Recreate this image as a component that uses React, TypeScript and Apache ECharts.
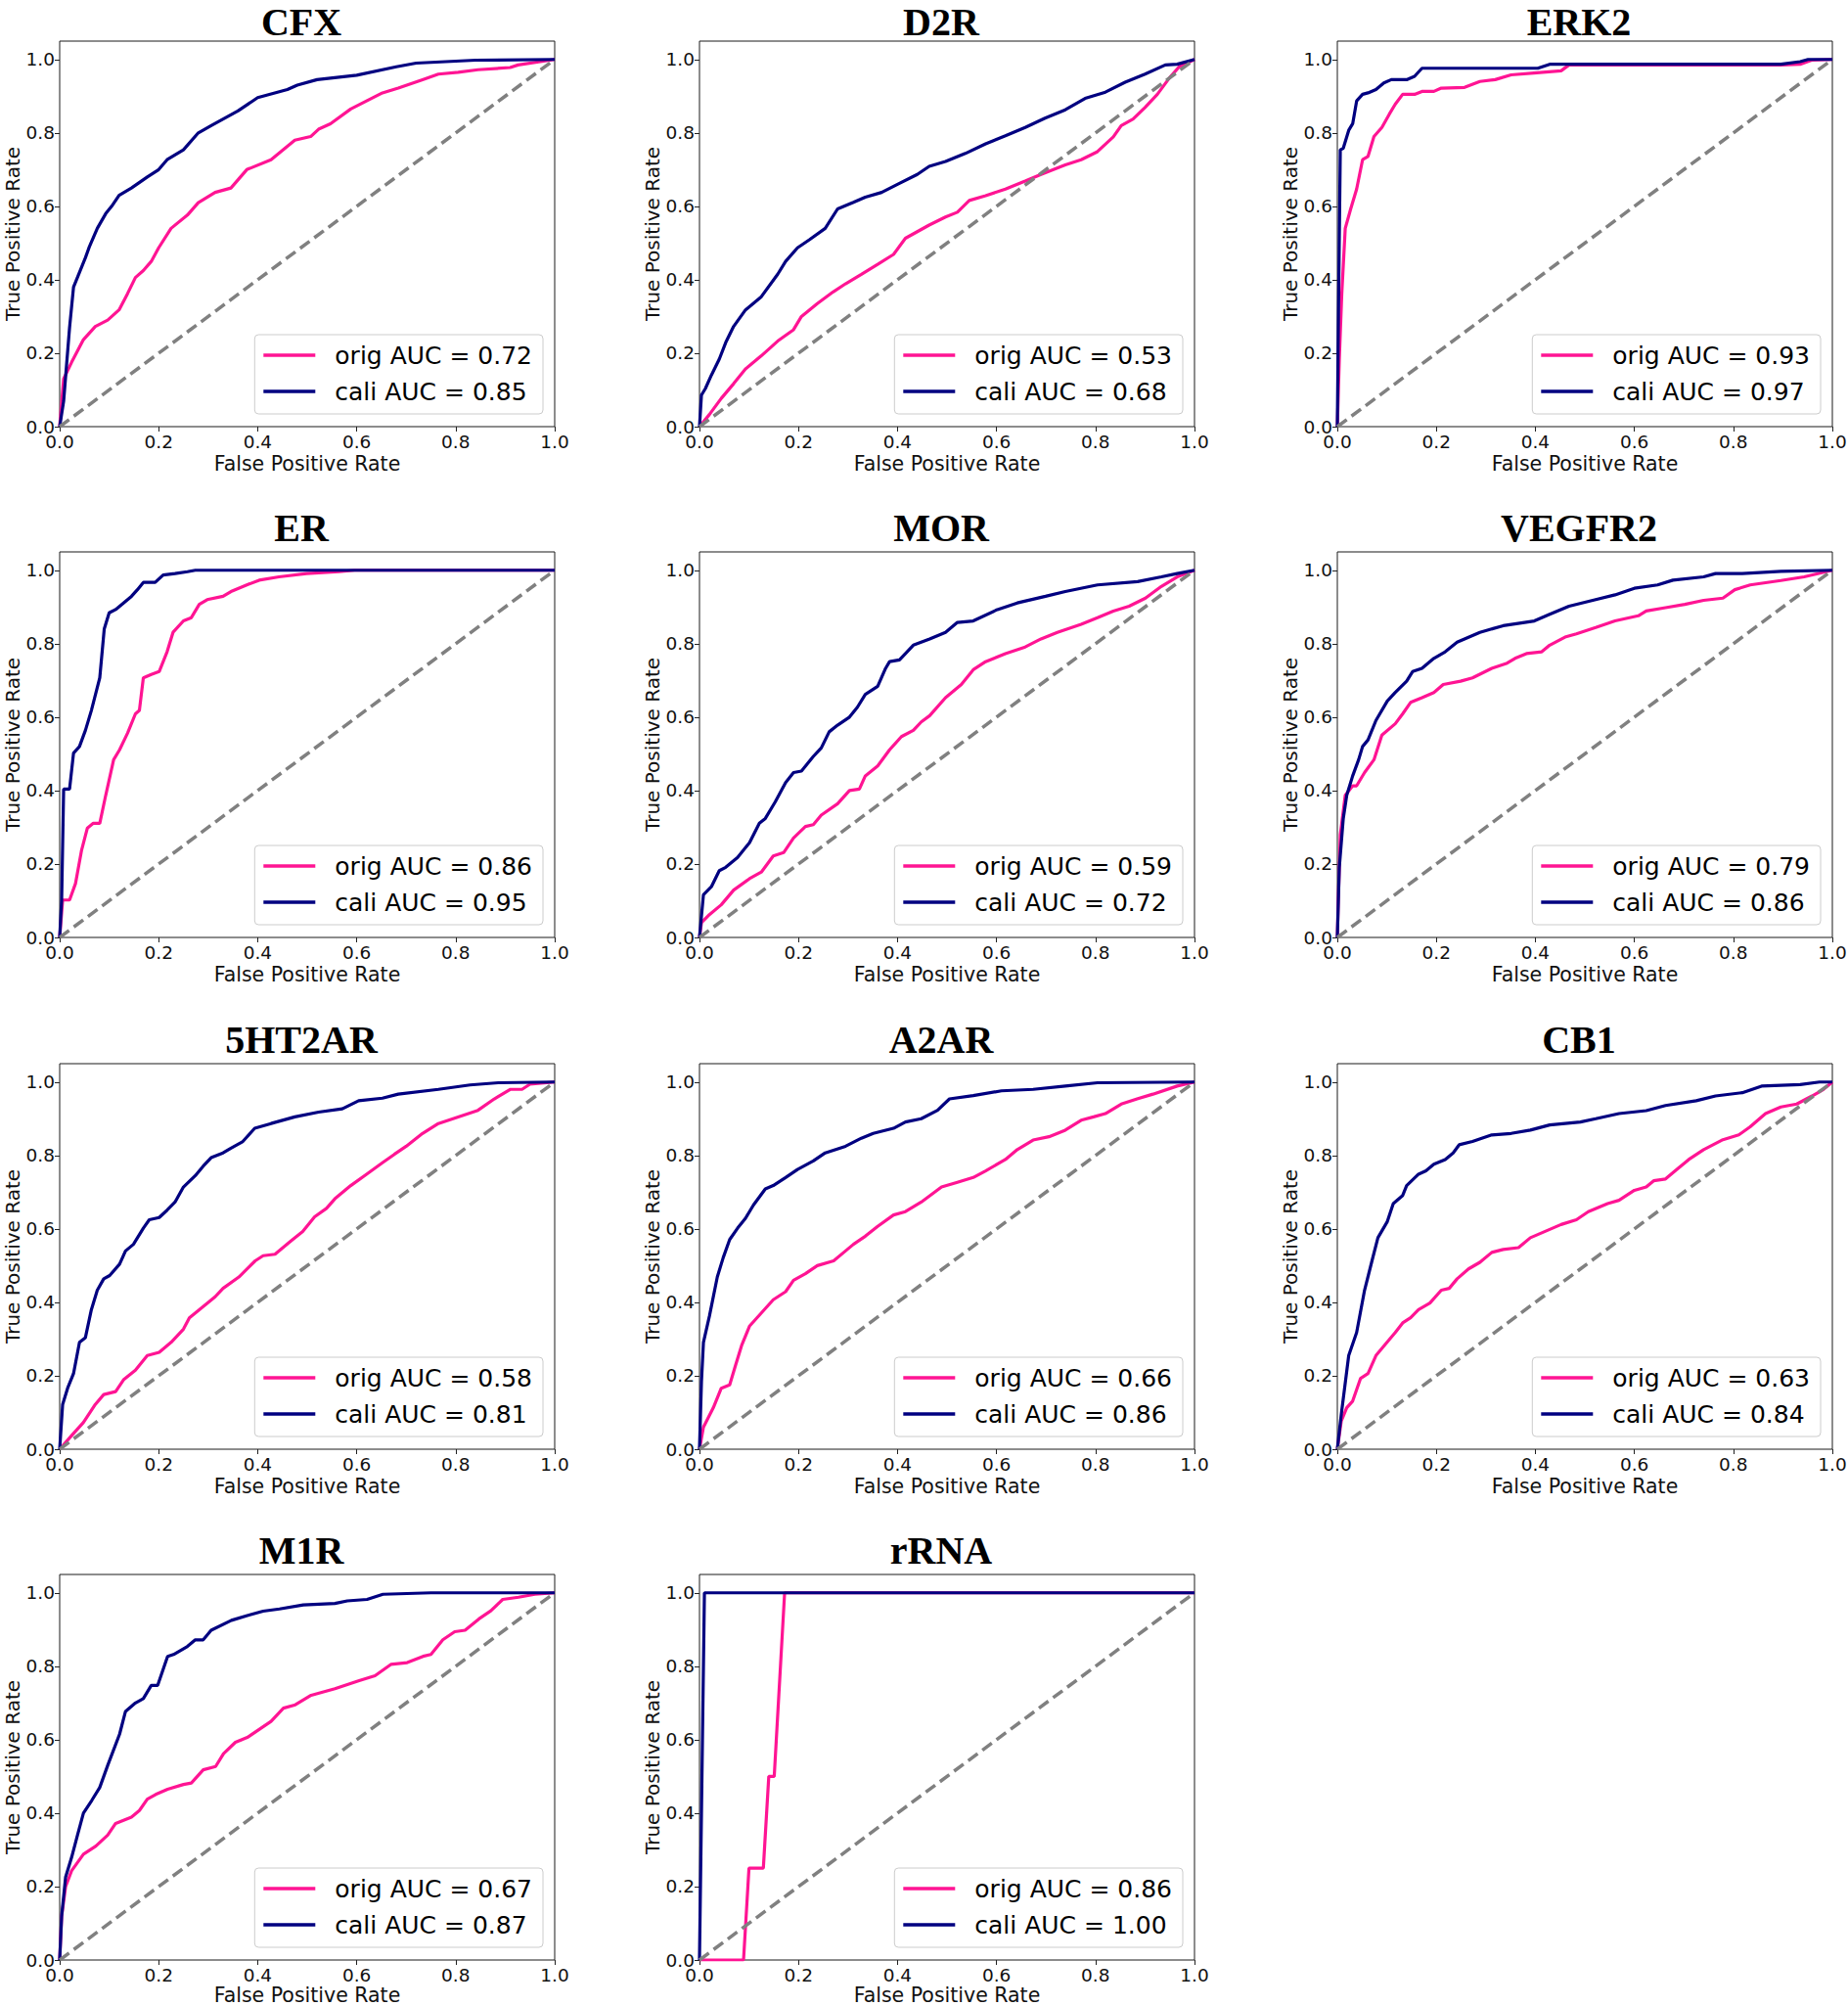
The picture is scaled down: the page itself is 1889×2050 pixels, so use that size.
import React, { useEffect, useRef } from "react";
import * as echarts from "echarts";

type Pt = [number, number];

// ---------- data ----------
const TITLES = ["CFX", "D2R", "ERK2", "ER", "MOR", "VEGFR2", "5HT2AR", "A2AR", "CB1", "M1R", "rRNA"];
const ORIG_AUC = ["0.72", "0.53", "0.93", "0.86", "0.59", "0.79", "0.58", "0.66", "0.63", "0.67", "0.86"];
const CALI_AUC = ["0.85", "0.68", "0.97", "0.95", "0.72", "0.86", "0.81", "0.86", "0.84", "0.87", "1.00"];
const AXIS_TICKS = [0, 0.2, 0.4, 0.6, 0.8, 1.0];
const DIAGONAL: Pt[] = [[0, 0], [1, 1]];

const CFX_ORIG: Pt[] = [[0,0],[0.008,0.13],[0.024,0.175],[0.048,0.237],[0.072,0.273],[0.097,0.29],[0.12,0.318],[0.137,0.362],[0.153,0.406],[0.169,0.425],[0.185,0.45],[0.2,0.487],[0.225,0.54],[0.258,0.576],[0.28,0.61],[0.314,0.638],[0.346,0.65],[0.378,0.7],[0.427,0.727],[0.475,0.78],[0.507,0.79],[0.523,0.81],[0.547,0.825],[0.588,0.865],[0.62,0.887],[0.652,0.909],[0.684,0.922],[0.733,0.945],[0.765,0.96],[0.805,0.965],[0.845,0.972],[0.91,0.978],[0.926,0.985],[1,1]];
const CFX_CALI: Pt[] = [[0,0],[0.008,0.069],[0.02,0.27],[0.028,0.38],[0.04,0.42],[0.052,0.46],[0.06,0.49],[0.076,0.54],[0.093,0.58],[0.105,0.6],[0.12,0.63],[0.145,0.65],[0.177,0.68],[0.2,0.7],[0.217,0.727],[0.25,0.754],[0.28,0.8],[0.306,0.82],[0.36,0.86],[0.4,0.896],[0.46,0.918],[0.48,0.93],[0.52,0.945],[0.6,0.957],[0.68,0.98],[0.72,0.99],[0.84,0.998],[1,1]];

const D2R_ORIG: Pt[] = [[0,0],[0.02,0.033],[0.044,0.077],[0.069,0.117],[0.093,0.157],[0.125,0.193],[0.158,0.233],[0.19,0.264],[0.206,0.3],[0.238,0.335],[0.27,0.367],[0.295,0.389],[0.327,0.415],[0.36,0.442],[0.392,0.469],[0.416,0.513],[0.464,0.549],[0.497,0.571],[0.521,0.584],[0.545,0.616],[0.578,0.629],[0.618,0.647],[0.658,0.669],[0.69,0.687],[0.739,0.713],[0.771,0.727],[0.804,0.749],[0.836,0.789],[0.852,0.82],[0.876,0.838],[0.9,0.869],[0.925,0.905],[0.949,0.949],[0.969,0.98],[1,1]];
const D2R_CALI: Pt[] = [[0,0],[0.004,0.086],[0.012,0.104],[0.024,0.14],[0.04,0.184],[0.053,0.229],[0.069,0.273],[0.093,0.318],[0.125,0.354],[0.158,0.415],[0.174,0.45],[0.198,0.487],[0.222,0.509],[0.254,0.54],[0.279,0.593],[0.311,0.611],[0.335,0.625],[0.368,0.638],[0.4,0.66],[0.44,0.687],[0.464,0.709],[0.497,0.722],[0.537,0.744],[0.578,0.77],[0.618,0.792],[0.658,0.815],[0.698,0.84],[0.739,0.863],[0.779,0.894],[0.82,0.911],[0.86,0.938],[0.9,0.96],[0.941,0.985],[0.965,0.987],[1,1]];

const ERK2_ORIG: Pt[] = [[0,0],[0.004,0.184],[0.009,0.362],[0.016,0.54],[0.027,0.593],[0.039,0.647],[0.051,0.727],[0.062,0.736],[0.074,0.79],[0.09,0.815],[0.105,0.851],[0.117,0.878],[0.132,0.905],[0.156,0.905],[0.171,0.913],[0.195,0.913],[0.21,0.922],[0.257,0.924],[0.288,0.94],[0.319,0.945],[0.351,0.958],[0.397,0.963],[0.452,0.969],[0.468,0.985],[0.896,0.985],[0.935,0.987],[0.958,0.998],[1,1]];
const ERK2_CALI: Pt[] = [[0,0],[0.002,0.27],[0.006,0.754],[0.012,0.758],[0.023,0.807],[0.031,0.825],[0.039,0.887],[0.051,0.905],[0.062,0.909],[0.078,0.918],[0.094,0.936],[0.109,0.945],[0.14,0.945],[0.156,0.954],[0.171,0.976],[0.195,0.976],[0.405,0.976],[0.429,0.987],[0.507,0.987],[0.896,0.987],[0.935,0.994],[0.951,1],[1,1]];

const ER_ORIG: Pt[] = [[0,0],[0.006,0.102],[0.02,0.102],[0.032,0.147],[0.044,0.236],[0.056,0.298],[0.068,0.311],[0.081,0.311],[0.093,0.387],[0.109,0.484],[0.121,0.511],[0.137,0.556],[0.153,0.609],[0.161,0.618],[0.169,0.707],[0.185,0.716],[0.201,0.724],[0.217,0.778],[0.229,0.831],[0.25,0.862],[0.266,0.871],[0.282,0.907],[0.298,0.92],[0.33,0.929],[0.346,0.942],[0.378,0.96],[0.403,0.973],[0.443,0.982],[0.499,0.991],[0.564,0.996],[0.596,1],[1,1]];
const ER_CALI: Pt[] = [[0,0],[0.004,0.102],[0.008,0.404],[0.02,0.404],[0.028,0.502],[0.04,0.52],[0.052,0.564],[0.064,0.618],[0.081,0.707],[0.09,0.84],[0.1,0.884],[0.113,0.893],[0.129,0.911],[0.145,0.929],[0.157,0.947],[0.169,0.967],[0.193,0.967],[0.209,0.987],[0.233,0.991],[0.258,0.996],[0.274,1],[1,1]];

const MOR_ORIG: Pt[] = [[0,0],[0.004,0.04],[0.02,0.062],[0.044,0.089],[0.069,0.129],[0.101,0.16],[0.125,0.178],[0.149,0.222],[0.17,0.231],[0.19,0.271],[0.214,0.302],[0.23,0.307],[0.246,0.333],[0.279,0.364],[0.303,0.4],[0.323,0.404],[0.335,0.44],[0.36,0.467],[0.384,0.511],[0.408,0.547],[0.432,0.564],[0.448,0.587],[0.465,0.604],[0.497,0.653],[0.529,0.689],[0.553,0.729],[0.578,0.751],[0.618,0.773],[0.658,0.791],[0.69,0.813],[0.723,0.831],[0.771,0.853],[0.804,0.871],[0.836,0.889],[0.868,0.902],[0.901,0.924],[0.933,0.956],[0.965,0.982],[1,1]];
const MOR_CALI: Pt[] = [[0,0],[0.008,0.116],[0.024,0.138],[0.04,0.182],[0.053,0.191],[0.077,0.218],[0.101,0.258],[0.121,0.311],[0.133,0.324],[0.153,0.369],[0.174,0.422],[0.19,0.449],[0.206,0.453],[0.23,0.493],[0.246,0.516],[0.262,0.56],[0.279,0.578],[0.303,0.6],[0.319,0.627],[0.335,0.662],[0.36,0.684],[0.376,0.733],[0.384,0.751],[0.404,0.756],[0.432,0.796],[0.465,0.813],[0.497,0.831],[0.521,0.858],[0.553,0.862],[0.602,0.893],[0.642,0.911],[0.699,0.929],[0.739,0.942],[0.804,0.96],[0.885,0.969],[0.933,0.982],[0.965,0.991],[1,1]];

const VEGFR2_ORIG: Pt[] = [[0,0],[0.002,0.102],[0.006,0.28],[0.016,0.387],[0.031,0.413],[0.039,0.413],[0.055,0.449],[0.074,0.484],[0.09,0.551],[0.117,0.582],[0.132,0.609],[0.148,0.64],[0.171,0.653],[0.195,0.667],[0.214,0.689],[0.249,0.698],[0.273,0.707],[0.312,0.733],[0.343,0.747],[0.359,0.76],[0.382,0.773],[0.413,0.778],[0.429,0.796],[0.46,0.818],[0.483,0.827],[0.522,0.844],[0.561,0.862],[0.608,0.876],[0.624,0.889],[0.663,0.898],[0.702,0.907],[0.74,0.918],[0.779,0.924],[0.803,0.947],[0.834,0.96],[0.896,0.972],[0.943,0.982],[1,1]];
const VEGFR2_CALI: Pt[] = [[0,0],[0.004,0.191],[0.012,0.324],[0.019,0.387],[0.031,0.44],[0.043,0.484],[0.051,0.52],[0.062,0.538],[0.078,0.591],[0.101,0.644],[0.117,0.667],[0.14,0.698],[0.152,0.724],[0.171,0.733],[0.195,0.76],[0.218,0.778],[0.242,0.804],[0.288,0.831],[0.335,0.849],[0.398,0.862],[0.429,0.88],[0.468,0.902],[0.522,0.92],[0.561,0.933],[0.6,0.951],[0.647,0.96],[0.678,0.973],[0.74,0.982],[0.764,0.991],[0.818,0.991],[0.896,0.997],[1,1]];

const HT2AR_ORIG: Pt[] = [[0,0],[0.024,0.037],[0.048,0.073],[0.072,0.122],[0.089,0.149],[0.113,0.157],[0.129,0.189],[0.153,0.215],[0.177,0.255],[0.201,0.264],[0.225,0.291],[0.25,0.327],[0.262,0.358],[0.282,0.38],[0.314,0.415],[0.33,0.438],[0.362,0.469],[0.395,0.513],[0.411,0.527],[0.435,0.531],[0.467,0.567],[0.491,0.593],[0.515,0.633],[0.539,0.656],[0.556,0.682],[0.588,0.718],[0.62,0.749],[0.652,0.78],[0.676,0.803],[0.7,0.825],[0.733,0.86],[0.765,0.887],[0.805,0.905],[0.845,0.923],[0.878,0.954],[0.91,0.98],[0.934,0.98],[0.95,0.994],[1,1]];
const HT2AR_CALI: Pt[] = [[0,0],[0.006,0.122],[0.016,0.166],[0.028,0.206],[0.04,0.291],[0.052,0.304],[0.064,0.38],[0.076,0.433],[0.089,0.464],[0.101,0.473],[0.121,0.504],[0.133,0.54],[0.149,0.558],[0.169,0.602],[0.181,0.625],[0.201,0.631],[0.217,0.651],[0.233,0.673],[0.25,0.714],[0.274,0.745],[0.29,0.771],[0.306,0.794],[0.33,0.807],[0.346,0.82],[0.37,0.838],[0.394,0.874],[0.427,0.887],[0.475,0.905],[0.523,0.918],[0.571,0.927],[0.604,0.949],[0.652,0.956],[0.684,0.967],[0.765,0.98],[0.829,0.992],[0.886,0.998],[1,1]];

const A2AR_ORIG: Pt[] = [[0,0],[0.008,0.06],[0.028,0.113],[0.044,0.166],[0.061,0.175],[0.073,0.229],[0.085,0.282],[0.101,0.335],[0.125,0.371],[0.149,0.407],[0.174,0.429],[0.19,0.46],[0.214,0.478],[0.238,0.5],[0.271,0.513],[0.295,0.54],[0.311,0.558],[0.335,0.58],[0.36,0.607],[0.392,0.638],[0.416,0.647],[0.448,0.673],[0.489,0.714],[0.521,0.727],[0.553,0.74],[0.578,0.758],[0.618,0.789],[0.642,0.816],[0.674,0.842],[0.706,0.851],[0.739,0.869],[0.771,0.896],[0.796,0.905],[0.82,0.914],[0.852,0.94],[0.884,0.954],[0.916,0.967],[0.965,0.989],[1,1]];
const A2AR_CALI: Pt[] = [[0,0],[0.004,0.184],[0.008,0.291],[0.02,0.362],[0.036,0.469],[0.048,0.522],[0.061,0.571],[0.077,0.602],[0.093,0.629],[0.109,0.665],[0.133,0.709],[0.149,0.718],[0.174,0.74],[0.198,0.762],[0.23,0.785],[0.254,0.807],[0.295,0.825],[0.327,0.847],[0.351,0.86],[0.392,0.874],[0.416,0.891],[0.448,0.9],[0.481,0.923],[0.505,0.954],[0.553,0.963],[0.61,0.976],[0.674,0.98],[0.739,0.989],[0.804,0.998],[1,1]];

const CB1_ORIG: Pt[] = [[0,0],[0.008,0.077],[0.019,0.113],[0.031,0.131],[0.047,0.193],[0.062,0.206],[0.078,0.255],[0.097,0.286],[0.117,0.318],[0.132,0.344],[0.148,0.358],[0.164,0.38],[0.187,0.398],[0.21,0.433],[0.226,0.438],[0.242,0.464],[0.265,0.491],[0.288,0.509],[0.312,0.536],[0.335,0.544],[0.366,0.549],[0.39,0.576],[0.421,0.594],[0.452,0.612],[0.483,0.625],[0.507,0.647],[0.546,0.669],[0.569,0.678],[0.6,0.705],[0.624,0.714],[0.639,0.731],[0.663,0.736],[0.686,0.762],[0.71,0.789],[0.74,0.816],[0.779,0.843],[0.811,0.856],[0.834,0.878],[0.865,0.914],[0.896,0.932],[0.928,0.94],[0.959,0.962],[0.982,0.98],[1,1]];
const CB1_CALI: Pt[] = [[0,0],[0.008,0.095],[0.023,0.255],[0.039,0.318],[0.055,0.433],[0.07,0.513],[0.082,0.576],[0.101,0.62],[0.113,0.669],[0.132,0.691],[0.14,0.718],[0.164,0.749],[0.179,0.758],[0.195,0.776],[0.218,0.789],[0.234,0.807],[0.246,0.829],[0.273,0.838],[0.312,0.856],[0.351,0.86],[0.39,0.869],[0.429,0.883],[0.491,0.891],[0.522,0.9],[0.569,0.914],[0.624,0.922],[0.663,0.936],[0.725,0.949],[0.764,0.962],[0.818,0.971],[0.857,0.989],[0.935,0.993],[0.974,1],[1,1]];

const M1R_ORIG: Pt[] = [[0,0],[0.004,0.12],[0.012,0.2],[0.024,0.243],[0.048,0.288],[0.073,0.31],[0.097,0.34],[0.113,0.372],[0.145,0.389],[0.161,0.407],[0.177,0.438],[0.194,0.451],[0.218,0.465],[0.25,0.478],[0.266,0.482],[0.29,0.518],[0.315,0.527],[0.331,0.562],[0.355,0.593],[0.379,0.606],[0.403,0.628],[0.427,0.65],[0.452,0.686],[0.476,0.695],[0.508,0.721],[0.556,0.739],[0.605,0.761],[0.637,0.774],[0.669,0.805],[0.702,0.81],[0.734,0.827],[0.75,0.832],[0.774,0.872],[0.798,0.894],[0.819,0.898],[0.847,0.929],[0.871,0.951],[0.895,0.982],[0.927,0.988],[0.96,0.996],[1,1]];
const M1R_CALI: Pt[] = [[0,0],[0.004,0.12],[0.012,0.226],[0.024,0.279],[0.036,0.34],[0.048,0.4],[0.065,0.435],[0.081,0.47],[0.097,0.53],[0.121,0.615],[0.133,0.677],[0.153,0.7],[0.169,0.712],[0.185,0.748],[0.198,0.748],[0.218,0.827],[0.23,0.832],[0.258,0.854],[0.274,0.872],[0.29,0.872],[0.306,0.898],[0.347,0.925],[0.379,0.938],[0.411,0.95],[0.444,0.956],[0.492,0.967],[0.556,0.971],[0.581,0.978],[0.621,0.982],[0.653,0.996],[0.75,1],[1,1]];

const RRNA_ORIG: Pt[] = [[0,0],[0.089,0],[0.1,0.25],[0.129,0.25],[0.14,0.5],[0.151,0.5],[0.172,1],[1,1]];
const RRNA_CALI: Pt[] = [[0,0],[0.01,1],[1,1]];

const ORIG_CURVES: Pt[][] = [CFX_ORIG, D2R_ORIG, ERK2_ORIG, ER_ORIG, MOR_ORIG, VEGFR2_ORIG, HT2AR_ORIG, A2AR_ORIG, CB1_ORIG, M1R_ORIG, RRNA_ORIG];
const CALI_CURVES: Pt[][] = [CFX_CALI, D2R_CALI, ERK2_CALI, ER_CALI, MOR_CALI, VEGFR2_CALI, HT2AR_CALI, A2AR_CALI, CB1_CALI, M1R_CALI, RRNA_CALI];

// ---------- layout / style ----------
const CHART_W = 1889;
const CHART_H = 2050;
const COL_LEFT = [61, 715, 1367];
const ROW_TOP = [42, 564, 1087, 1609];
const PW = 506;
const PH = 394;
const PINK = "#ff1493";
const NAVY = "#000080";
const FONT = "DejaVu Sans";

function buildOption() {
  const grid: any[] = [];
  const xAxis: any[] = [];
  const yAxis: any[] = [];
  const series: any[] = [];
  const legend: any[] = [];
  const graphic: any[] = [];

  TITLES.forEach((title, i) => {
    const left = COL_LEFT[i % 3];
    const row = Math.floor(i / 3);
    const top = ROW_TOP[row];
    const origName = `orig AUC = ${ORIG_AUC[i]}`;
    const caliName = `cali AUC = ${CALI_AUC[i]}`;

    grid.push({
      left, top, width: PW, height: PH,
      outerBoundsMode: "none", containLabel: false,
      show: true, borderColor: "#1a1a1a", borderWidth: 1, backgroundColor: "transparent",
    });

    const tickLabel = { fontFamily: FONT, fontSize: 18.5, color: "#111", margin: 6, formatter: (v: number) => v.toFixed(1) };

    xAxis.push({
      gridIndex: i, type: "value", min: 0, max: 1, interval: 0.2,
      name: "False Positive Rate", nameLocation: "middle", nameGap: row === 3 ? 22 : 27,
      nameTextStyle: { fontFamily: FONT, fontSize: 20.5, color: "#111" },
      axisLine: { show: false },
      axisTick: { show: true, length: 5, lineStyle: { color: "#222", width: 1 }, customValues: AXIS_TICKS },
      axisLabel: { ...tickLabel, customValues: AXIS_TICKS, showMinLabel: true, showMaxLabel: true },
      splitLine: { show: false },
    });
    yAxis.push({
      gridIndex: i, type: "value", min: 0, max: 1.05, interval: 0.2,
      name: "True Positive Rate", nameLocation: "middle", nameGap: 37, nameRotate: 90,
      nameTextStyle: { fontFamily: FONT, fontSize: 20, color: "#111" },
      axisLine: { show: false },
      axisTick: { show: true, length: 5, lineStyle: { color: "#222", width: 1 }, customValues: AXIS_TICKS },
      axisLabel: { ...tickLabel, margin: 5, customValues: AXIS_TICKS },
      splitLine: { show: false },
    });

    series.push({
      type: "line", name: origName, xAxisIndex: i, yAxisIndex: i,
      data: ORIG_CURVES[i], symbol: "none", showSymbol: false,
      lineStyle: { color: PINK, width: 3.2 }, itemStyle: { color: PINK }, z: 2,
    });
    series.push({
      type: "line", name: caliName, xAxisIndex: i, yAxisIndex: i,
      data: CALI_CURVES[i], symbol: "none", showSymbol: false,
      lineStyle: { color: NAVY, width: 3.2 }, itemStyle: { color: NAVY }, z: 3,
    });
    series.push({
      type: "line", name: `diag${i}`, xAxisIndex: i, yAxisIndex: i,
      data: DIAGONAL, symbol: "none", showSymbol: false, silent: true,
      lineStyle: { color: "#808080", width: 3.5, type: [12, 6] }, z: 4,
    });

    legend.push({
      orient: "vertical",
      right: CHART_W - (left + PW) + 12,
      top: top + 300,
      data: [{ name: origName }, { name: caliName }],
      icon: "rect", itemWidth: 53, itemHeight: 3.5, itemGap: 9, align: "left",
      selectedMode: false,
      textStyle: { fontFamily: FONT, fontSize: 25, color: "#000", lineHeight: 28, padding: [0, 0, 0, 15] },
      backgroundColor: "rgba(255,255,255,0.85)",
      borderColor: "#cccccc", borderWidth: 1, borderRadius: 4,
      padding: [7, 11, 9, 9],
    });

    graphic.push({
      type: "text",
      x: left + PW / 2 - 6,
      y: row === 0 ? 22 : top - 25,
      style: {
        text: title,
        fontFamily: "Liberation Serif",
        fontWeight: "bold",
        fontSize: 40,
        fill: "#000",
        align: "center",
        verticalAlign: "middle",
      },
    });
  });

  return { animation: false, backgroundColor: "#ffffff", grid, xAxis, yAxis, series, legend, graphic };
}

export default function App() {
  const ref = useRef<HTMLDivElement>(null);
  useEffect(() => {
    if (!ref.current) return;
    const chart = echarts.init(ref.current, undefined, { renderer: "svg" });
    chart.setOption(buildOption() as any);
    return () => chart.dispose();
  }, []);
  return (
    <div
      ref={ref}
      style={{ position: "absolute", left: 0, top: 0, width: CHART_W, height: CHART_H, background: "#fff" }}
    />
  );
}
